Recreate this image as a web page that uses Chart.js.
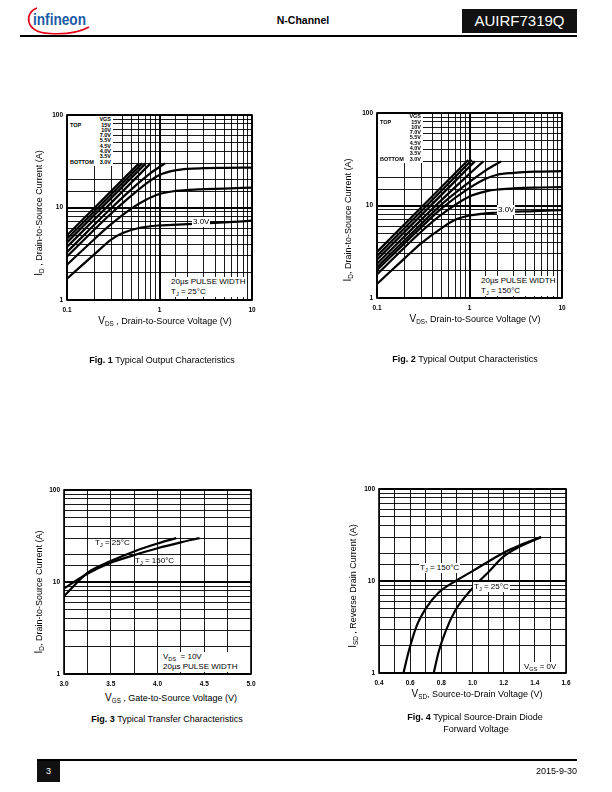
<!DOCTYPE html>
<html>
<head>
<meta charset="utf-8">
<script src="https://cdn.jsdelivr.net/npm/chart.js@4.4.0/dist/chart.umd.min.js"></script>
<style>
  body { margin: 0; width: 612px; height: 792px; position: relative; background: #fff;
         font-family: "Liberation Sans", Arial, sans-serif; color: #000; overflow: hidden; }
  .abs { position: absolute; white-space: nowrap; }
  canvas { position: absolute; }
  .note { position: absolute; background: #fff; font-size: 8px; line-height: 10px; white-space: nowrap; }
  .title { position: absolute; font-size: 9px; white-space: nowrap; transform: translate(-50%, -50%); }
  .title.rot { transform: translate(-50%, -50%) rotate(-90deg); }
  .title .big, .note .big { font-size: 10px; }
  sub { font-size: 70%; vertical-align: -2px; line-height: 0; }
  .cap { position: absolute; font-size: 9px; white-space: nowrap; transform: translateX(-50%); }
  .leg { position: absolute; background: #fff; font-weight: bold; font-size: 5.5px; }
  .leg .r { display: flex; justify-content: space-between; height: 5.3px; line-height: 5.3px; }
</style>
</head>
<body>

<!-- header -->
<svg class="abs" style="left:20px;top:2px" width="78" height="36">
  <path d="M17 6 C 5 10, 3 30, 30 31.5 C 46 32.5, 60 30, 69 25" stroke="#e2001a" stroke-width="1.6" fill="none"/>
  <text x="13" y="23" font-family="Liberation Sans, Arial" font-size="16" font-weight="bold" fill="#1b5aa6"
        textLength="53" lengthAdjust="spacingAndGlyphs">infineon</text>
</svg>
<div class="abs" style="left:303px;top:14px;transform:translateX(-50%);font-size:10.5px;font-weight:bold">N-Channel</div>
<div class="abs" style="left:462px;top:9px;width:115px;height:24px;background:#111;color:#fff;font-size:15px;line-height:24px;text-align:center">AUIRF7319Q</div>
<div class="abs" style="left:20px;top:35px;width:557px;height:1.5px;background:#000"></div>

<!-- chart canvases -->
<canvas id="c1" width="215" height="205" style="left:42px;top:110px"></canvas>
<canvas id="c2" width="215" height="205" style="left:352px;top:108px"></canvas>
<canvas id="c3" width="217" height="204" style="left:39px;top:485px"></canvas>
<canvas id="c4" width="217" height="204" style="left:354px;top:484px"></canvas>

<!-- fig 1 overlays -->
<div class="leg" id="leg1" style="left:67.5px;top:115.8px;width:41px;padding:1.5px 2px 1px 2.5px"></div>
<div class="note" style="left:192px;top:217px;padding:0 1px">3.0V</div>
<div class="note" style="left:169px;top:277px;padding:0 2px">20µs PULSE WIDTH<br>T<sub>J</sub> = 25°C</div>
<div class="title rot" style="left:38px;top:213px"><span class="big">I</span><sub>D</sub> , Drain-to-Source Current (A)</div>
<div class="title" style="left:165px;top:320px"><span class="big">V</span><sub>DS</sub> , Drain-to-Source Voltage (V)</div>
<div class="cap" style="left:162px;top:355px"><b>Fig. 1</b> Typical Output Characteristics</div>

<!-- fig 2 overlays -->
<div class="leg" id="leg2" style="left:377.5px;top:113.8px;width:41px;padding:0.5px 2px 1px 2.5px"></div>
<div class="note" style="left:497px;top:205px;padding:0 1px">3.0V</div>
<div class="note" style="left:479px;top:276px;padding:0 2px">20µs PULSE WIDTH<br>T<sub>J</sub> = 150°C</div>
<div class="title rot" style="left:347px;top:220px"><span class="big">I</span><sub>D</sub>, Drain-to-Source Current (A)</div>
<div class="title" style="left:475px;top:318px"><span class="big">V</span><sub>DS</sub>, Drain-to-Source Voltage (V)</div>
<div class="cap" style="left:465px;top:354px"><b>Fig. 2</b> Typical Output Characteristics</div>

<!-- fig 3 overlays -->
<div class="note" style="left:95px;top:538px;background:transparent">T<sub>J</sub> = 25°C</div>
<div class="note" style="left:135px;top:556px;background:transparent">T<sub>J</sub> = 150°C</div>
<div class="note" style="left:161px;top:652px;padding:0 2px">V<sub>DS</sub> &nbsp;= 10V<br>20µs PULSE WIDTH</div>
<div class="title rot" style="left:38px;top:592px"><span class="big">I</span><sub>D</sub>, Drain-to-Source Current (A)</div>
<div class="title" style="left:171px;top:697px"><span class="big">V</span><sub>GS</sub> , Gate-to-Source Voltage (V)</div>
<div class="cap" style="left:167px;top:714px"><b>Fig. 3</b> Typical Transfer Characteristics</div>

<!-- fig 4 overlays -->
<div class="note" style="left:419px;top:563px;padding:0 1px">T<sub>J</sub> = 150°C</div>
<div class="note" style="left:473px;top:582px;padding:0 1px">T<sub>J</sub> = 25°C</div>
<div class="note" style="left:523px;top:662px;padding:0 1px">V<sub>GS</sub> = 0V</div>
<div class="title rot" style="left:352px;top:586px"><span class="big">I</span><sub>SD</sub> , Reverse Drain Current (A)</div>
<div class="title" style="left:477px;top:693px"><span class="big">V</span><sub>SD</sub>, Source-to-Drain Voltage (V)</div>
<div class="cap" style="left:475px;top:712px"><b>Fig. 4</b> Typical Source-Drain Diode</div>
<div class="cap" style="left:476px;top:724px">Forward Voltage</div>

<!-- footer -->
<div class="abs" style="left:37px;top:759px;width:540px;height:2px;background:#000"></div>
<div class="abs" style="left:37px;top:761px;width:23px;height:21px;background:#111;color:#fff;font-size:9px;line-height:21px;text-align:center">3</div>
<div class="abs" style="right:35px;top:766px;font-size:9px">2015-9-30</div>

<script>
// gate voltages, top to bottom (legend order)
const vgsLabels = ["15V", "10V", "7.0V", "5.5V", "4.5V", "4.0V", "3.5V", "3.0V"];

// Fig. 1  TJ = 25°C, one row per VGS
const fig1Vds = [
  [0.1, 0.6],
  [0.1, 0.65],
  [0.1, 0.71],
  [0.1, 0.8],
  [0.1, 0.3, 0.5, 0.8, 1.15],
  [0.1, 0.3, 0.5, 0.7, 1.0, 1.5, 2, 3, 5, 10],
  [0.1, 0.2, 0.3, 0.5, 0.7, 1.0, 1.5, 2.6, 5, 10],
  [0.1, 0.2, 0.3, 0.4, 0.6, 1.0, 2, 5, 10],
];
const fig1Id = [
  [5.0, 30],
  [4.6, 30],
  [4.2, 30],
  [3.75, 30],
  [3.3, 9.8, 15.8, 23.5, 30],
  [2.95, 8.6, 13.5, 17.8, 22.5, 25.3, 26.2, 26.6, 26.8, 27],
  [2.4, 4.6, 6.6, 9.8, 12, 14, 15.1, 15.7, 16, 16.4],
  [1.7, 3.15, 4.5, 5.3, 6.0, 6.4, 6.6, 6.9, 7.2],
];

// Fig. 2  TJ = 150°C
const fig2Vds = [
  [0.1, 0.97],
  [0.1, 1.06],
  [0.1, 1.14],
  [0.1, 0.5, 1.0, 1.41],
  [0.1, 0.3, 0.5, 1, 1.5, 2.2],
  [0.1, 0.3, 0.5, 1, 1.5, 2, 3, 5, 10],
  [0.1, 0.3, 0.5, 1, 1.5, 2, 3, 5, 10],
  [0.1, 0.2, 0.3, 0.5, 0.7, 1, 2, 5, 10],
];
const fig2Id = [
  [3.15, 31],
  [2.85, 31],
  [2.6, 30],
  [2.35, 11.5, 22, 30],
  [2.15, 6.3, 10.3, 18, 24, 30],
  [2.0, 5.8, 9.3, 15.5, 19.5, 21.5, 22.5, 23.2, 23.5],
  [1.8, 5.2, 8.0, 12.5, 14.2, 14.9, 15.3, 15.6, 15.8],
  [1.42, 2.7, 3.9, 5.7, 7.0, 7.8, 8.4, 8.7, 8.9],
];

// Fig. 3  transfer characteristics
const fig3Vgs25 = [3.0, 3.25, 3.5, 3.75, 4.0, 4.2];
const fig3Id25 = [7.0, 12.6, 16.9, 21.5, 26.2, 30];
const fig3Vgs150 = [3.0, 3.25, 3.5, 3.75, 4.0, 4.25, 4.45];
const fig3Id150 = [8.5, 12.3, 16.2, 19.6, 23.3, 27, 30];
const fig3XLabels = [3.0, 3.5, 4.0, 4.5, 5.0];

// Fig. 4  source-drain diode forward voltage
const fig4Vsd150 = [0.557, 0.59, 0.64, 0.70, 0.78, 0.90, 1.0, 1.1, 1.2, 1.3, 1.44];
const fig4Isd150 = [1, 1.7, 3.2, 5.0, 7.4, 10.2, 12.8, 16.2, 20.3, 24.3, 30];
const fig4Vsd25 = [0.751, 0.783, 0.826, 0.89, 0.955, 1.02, 1.1, 1.2, 1.3, 1.44];
const fig4Isd25 = [1, 1.7, 2.8, 4.8, 6.8, 9.1, 12.4, 18.5, 23.5, 30];
const fig4XLabels = [0.4, 0.6, 0.8, 1.0, 1.2, 1.4, 1.6];

// legend blocks built from the VGS list
function buildLegend(id) {
  const el = document.getElementById(id);
  let html = '<div class="r"><span></span><span>VGS</span></div>';
  vgsLabels.forEach((v, i) => {
    const left = i === 0 ? "TOP" : i === vgsLabels.length - 1 ? "BOTTOM" : "";
    html += `<div class="r"><span>${left}</span><span>${v}</span></div>`;
  });
  el.innerHTML = html;
}
buildLegend("leg1");
buildLegend("leg2");

const tickFont = { family: '"Liberation Sans", Arial, sans-serif', size: 6.5, weight: "bold" };
const isDecade = (v) => Math.abs(Math.log10(v) - Math.round(Math.log10(v))) < 1e-6;

const framePlugin = {
  id: "frame",
  afterDraw(chart) {
    const { ctx, chartArea: a } = chart;
    ctx.save();
    ctx.strokeStyle = "#000";
    ctx.lineWidth = 1.6;
    ctx.strokeRect(a.left, a.top, a.right - a.left, a.bottom - a.top);
    ctx.restore();
  },
};

function logAxis(min, max, pad, fit) {
  return {
    type: "logarithmic",
    min, max,
    grid: { color: "#000", lineWidth: (c) => (c.tick && isDecade(c.tick.value) ? 2 : 0.9), drawTicks: false },
    border: { display: false },
    ticks: { autoSkip: false, maxRotation: 0, padding: pad, color: "#000", font: tickFont,
             callback: (v) => (isDecade(v) ? String(v) : "") },
    afterFit: fit,
  };
}

function linAxis(min, max, step, labels, pad, fit) {
  return {
    type: "linear",
    min, max,
    grid: { color: "#000", lineWidth: 0.9, drawTicks: false },
    border: { display: false },
    ticks: { autoSkip: false, maxRotation: 0, stepSize: step, padding: pad, color: "#000", font: tickFont,
             callback: (v) => (labels.some((l) => Math.abs(l - v) < 1e-6) ? v.toFixed(1) : "") },
    afterFit: fit,
  };
}

// fixed axis sizes so the plot boxes land where the datasheet has them
const fitY = (s) => { s.width = 25; s.paddingTop = 0; s.paddingBottom = 0; };
const fitX = (s) => { s.height = 15; s.paddingLeft = 0; s.paddingRight = 0; };

function curve(xs, ys) {
  return {
    data: xs.map((x, i) => ({ x, y: ys[i] })),
    showLine: true,
    borderColor: "#000",
    borderWidth: 2.2,
    pointRadius: 0,
    cubicInterpolationMode: "monotone",
  };
}

function makeChart(id, datasets, xScale) {
  new Chart(document.getElementById(id), {
    type: "scatter",
    data: { datasets },
    options: {
      responsive: false,
      animation: false,
      layout: { padding: { top: 5, right: 5, left: 0, bottom: 0 } },
      plugins: { legend: { display: false }, tooltip: { enabled: false } },
      scales: { x: xScale, y: logAxis(1, 100, 4, fitY) },
    },
    plugins: [framePlugin],
  });
}

makeChart("c1", fig1Vds.map((xs, i) => curve(xs, fig1Id[i])), logAxis(0.1, 10, 6, fitX));
makeChart("c2", fig2Vds.map((xs, i) => curve(xs, fig2Id[i])), logAxis(0.1, 10, 6, fitX));
makeChart("c3", [curve(fig3Vgs25, fig3Id25), curve(fig3Vgs150, fig3Id150)],
  linAxis(3.0, 5.0, 0.25, fig3XLabels, 6, fitX));
makeChart("c4", [curve(fig4Vsd150, fig4Isd150), curve(fig4Vsd25, fig4Isd25)],
  linAxis(0.4, 1.6, 0.1, fig4XLabels, 6, fitX));
</script>
</body>
</html>
